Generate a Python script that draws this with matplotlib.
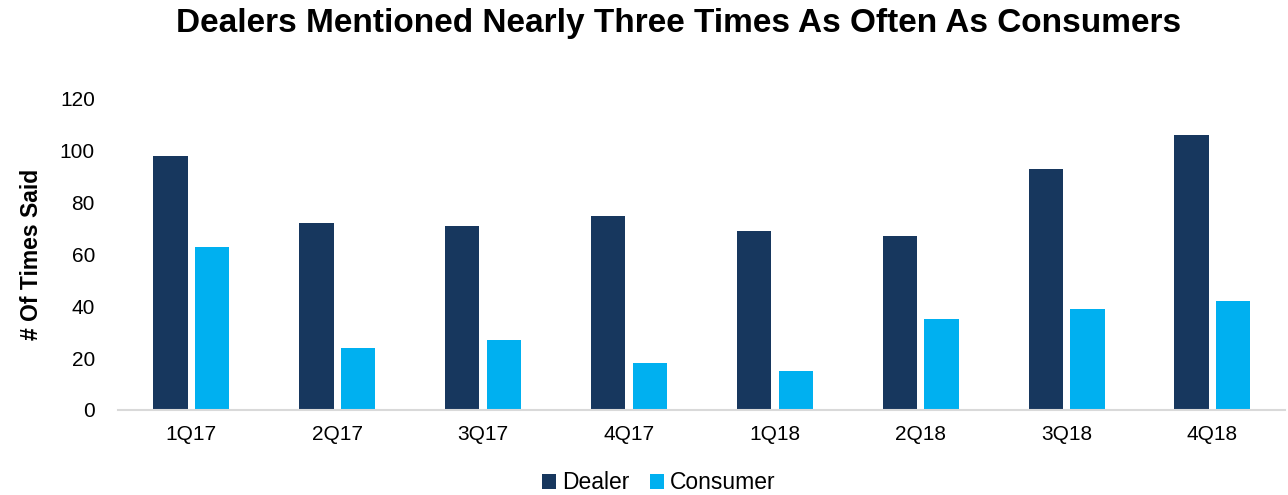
import matplotlib.pyplot as plt
import numpy as np

plt.rcParams['font.family'] = ['Liberation Sans', 'DejaVu Sans']

trimestres = ['1Q17', '2Q17', '3Q17', '4Q17', '1Q18', '2Q18', '3Q18', '4Q18']
dealer = [98, 72, 71, 75, 69, 67, 93, 106]
consumer = [63, 24, 27, 18, 15, 35, 39, 42]

fig = plt.figure(figsize=(12.88, 4.95), dpi=100)
ax = fig.add_axes([0.092, 0.172, 0.906, 0.628])

x = np.arange(len(trimestres))
ancho = 0.235
ax.bar(x - 0.143, dealer, ancho, color='#17375E', label='Dealer')
ax.bar(x + 0.143, consumer, ancho, color='#00B0F0', label='Consumer')

ax.set_xlim(-0.5, len(trimestres) - 0.5)
ax.set_ylim(0, 120)
ax.set_yticks(range(0, 121, 20))
ax.set_xticks(x)
ax.set_xticklabels(trimestres)
ax.tick_params(axis='both', length=0, labelsize=15, colors='black')
ax.tick_params(axis='x', pad=11)
ax.tick_params(axis='y', pad=17)
for s in ['top', 'right', 'left']:
    ax.spines[s].set_visible(False)
ax.spines['bottom'].set_color('#D9D9D9')
ax.spines['bottom'].set_linewidth(1.5)

ax.set_ylabel('# Of Times Said', fontsize=16.5, fontweight='bold', labelpad=12)
fig.text(0.527, 0.952, 'Dealers Mentioned Nearly Three Times As Often As Consumers',
         fontsize=24, fontweight='bold', ha='center', va='center')

ax.legend(loc='center', bbox_to_anchor=(0.463, -0.235), ncol=2, frameon=False,
          fontsize=16.5, handlelength=0.6, handleheight=0.6, handletextpad=0.25,
          columnspacing=0.9, borderpad=0.1)

fig.savefig('out.png', dpi=100)
